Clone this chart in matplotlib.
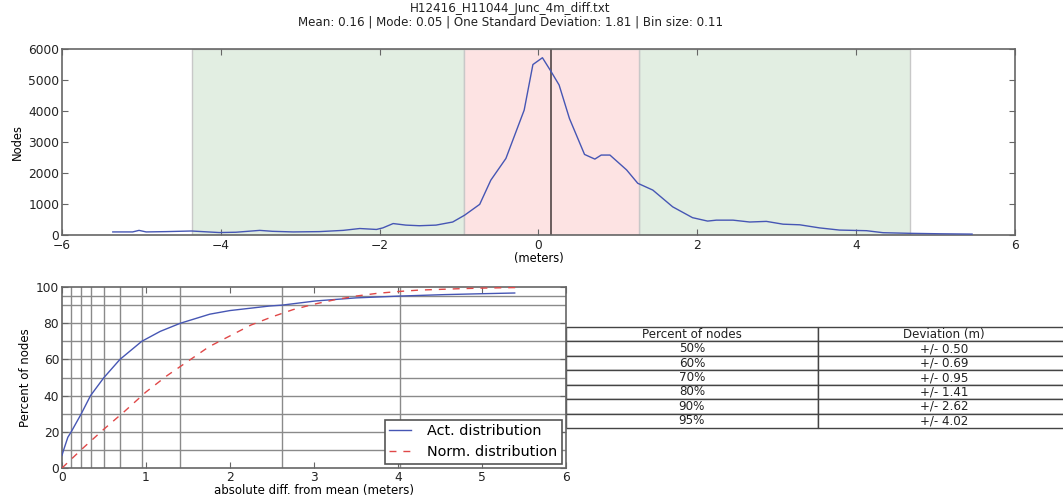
import matplotlib
matplotlib.use("Agg")
import matplotlib.pyplot as plt

# histogram of differences
diff_x = [-5.36, -5.11, -5.03, -4.94, -4.69, -4.37, -4.02, -3.81, -3.51, -3.35, -3.09, -2.76,
          -2.46, -2.25, -2.04, -1.96, -1.83, -1.67, -1.50, -1.29, -1.08, -0.93, -0.74, -0.60,
          -0.41, -0.18, -0.07, 0.05, 0.16, 0.26, 0.39, 0.58, 0.71, 0.79, 0.90, 1.11, 1.25,
          1.44, 1.69, 1.94, 2.13, 2.24, 2.45, 2.66, 2.87, 3.08, 3.29, 3.54, 3.79, 4.13, 4.34,
          4.68, 5.06, 5.46]
nodes = [100, 100, 150, 100, 110, 130, 80, 90, 150, 120, 100, 110,
         150, 210, 180, 230, 370, 320, 300, 320, 420, 640, 990, 1770,
         2470, 4030, 5500, 5720, 5270, 4840, 3760, 2600, 2450, 2580, 2580, 2100, 1670,
         1450, 910, 560, 450, 480, 480, 420, 440, 350, 330, 230, 160, 140, 75,
         55, 40, 30]

mean = 0.16
one_sd = (-0.94, 1.26)
outer = (-4.36, 4.68)

# cumulative curves
act_x = [0.0, 0.02, 0.07, 0.11, 0.23, 0.34, 0.50, 0.69, 0.95, 1.17, 1.41, 1.76, 2.0, 2.47,
         2.62, 3.02, 3.5, 4.02, 4.55, 5.0, 5.39]
act_y = [7, 10, 17, 20, 30, 40, 50, 60, 70, 75.5, 80, 85, 87, 89.5,
         90, 92.3, 94, 95, 95.8, 96.3, 96.7]
norm_x = [0, 0.25, 0.5, 0.75, 1.0, 1.25, 1.5, 1.75, 2.0, 2.25, 2.5, 2.75, 3.0, 3.25, 3.5,
          3.75, 4.0, 4.25, 4.5, 4.75, 5.0, 5.25, 5.4]
norm_y = [0, 11, 21.5, 31.5, 42, 51, 59, 67, 73, 79, 83.5, 87.5, 90.5, 93, 95,
          96.5, 97.5, 98.3, 98.7, 99.1, 99.4, 99.6, 99.7]

pct_levels = [10, 20, 30, 40, 50, 60, 70, 80, 90, 95]
pct_devs = [0.11, 0.23, 0.34, 0.50, 0.69, 0.95, 1.41, 2.62, 4.02]

table_pct = ["50%", "60%", "70%", "80%", "90%", "95%"]
table_dev = ["+/- 0.50", "+/- 0.69", "+/- 0.95", "+/- 1.41", "+/- 2.62", "+/- 4.02"]

blue = "#4656b4"
spine_c = "#666666"

fig = plt.figure(figsize=(10.63, 4.99), dpi=100)

fig.text(0.48, 0.995, "H12416_H11044_Junc_4m_diff.txt\n"
         "Mean: 0.16 | Mode: 0.05 | One Standard Deviation: 1.81 | Bin size: 0.11",
         ha="center", va="top", fontsize=8.6, color="#222222", linespacing=1.0)


def style(ax):
    for s in ax.spines.values():
        s.set_color(spine_c)
        s.set_linewidth(1.2)
    ax.tick_params(direction="in", top=True, right=True, length=4, width=0.8,
                   color=spine_c, labelsize=8.8, labelcolor="#222222", pad=2)


# top: histogram
ax1 = fig.add_axes([0.0583, 0.529, 0.8965, 0.3727])
ax1.axvspan(outer[0], one_sd[0], facecolor="#e2eee2", edgecolor="#c8c8c8", lw=1, zorder=0)
ax1.axvspan(one_sd[1], outer[1], facecolor="#e2eee2", edgecolor="#c8c8c8", lw=1, zorder=0)
ax1.axvspan(one_sd[0], one_sd[1], facecolor="#fde3e3", edgecolor="#c8c8c8", lw=1, zorder=0)
ax1.axvline(mean, color="#5e5252", lw=1.3, zorder=2)
ax1.plot(diff_x, nodes, color=blue, lw=1, zorder=3)
ax1.set_xlim(-6, 6)
ax1.set_ylim(0, 6000)
ax1.set_xticks([-6, -4, -2, 0, 2, 4, 6])
ax1.set_yticks([0, 1000, 2000, 3000, 4000, 5000, 6000])
ax1.set_xlabel("(meters)", fontsize=8.3, labelpad=0)
ax1.set_ylabel("Nodes", fontsize=8.3, labelpad=3)
style(ax1)
ax1.tick_params(axis="x", pad=3)

# bottom: cumulative distribution
ax2 = fig.add_axes([0.0583, 0.0621, 0.4741, 0.3627])
for p in pct_levels:
    ax2.axhline(p, color="#8a8a8a", lw=1, zorder=1)
for d in pct_devs:
    ax2.axvline(d, color="#8a8a8a", lw=1, zorder=1)
ax2.plot(act_x, act_y, color=blue, lw=1, label="Act. distribution", zorder=3)
ax2.plot(norm_x, norm_y, color="#e04848", lw=1, ls=(0, (5, 5)), label="Norm. distribution", zorder=3)
ax2.set_xlim(0, 6)
ax2.set_ylim(0, 100)
ax2.set_xticks([0, 1, 2, 3, 4, 5, 6])
ax2.set_yticks([0, 20, 40, 60, 80, 100])
ax2.set_xlabel("absolute diff. from mean (meters)", fontsize=8.5, labelpad=0)
ax2.set_ylabel("Percent of nodes", fontsize=8.5, labelpad=3)
style(ax2)
leg = ax2.legend(loc="lower right", fontsize=10.4, fancybox=False, framealpha=1,
                 handlelength=1.5, handletextpad=1.1, borderpad=0.3, labelspacing=0.5,
                 borderaxespad=0.3)
leg.get_frame().set_edgecolor("#555555")
leg.get_frame().set_linewidth(1.2)

# table of percentiles
cells = [[a, b] for a, b in zip(table_pct, table_dev)]
tab = ax2.table(cellText=cells, colLabels=["Percent of nodes", "Deviation (m)"],
                cellLoc="center", bbox=[1.0, 0.221, 1.0, 0.558])
tab.auto_set_font_size(False)
tab.set_fontsize(8.6)
for cell in tab.get_celld().values():
    cell.set_edgecolor("#444444")
    cell.set_linewidth(1)
    cell.get_text().set_color("#222222")

fig.savefig("out.png", dpi=100)
